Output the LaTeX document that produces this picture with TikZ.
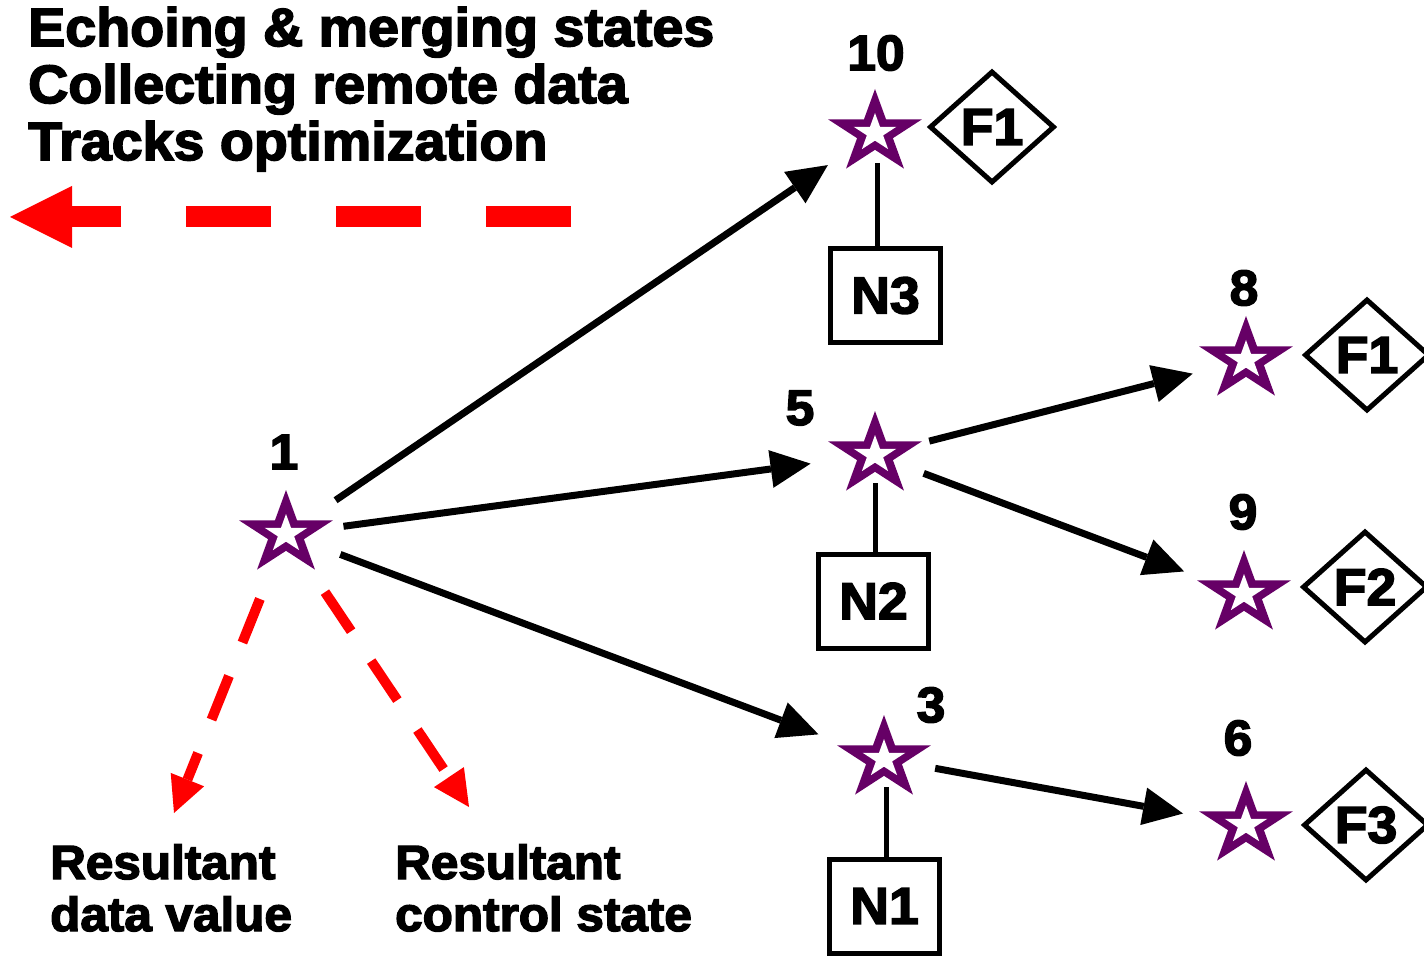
\documentclass[tikz,border=0pt]{standalone}
\usepackage{fontspec}
\setmainfont{Liberation Sans}[BoldFeatures={FakeBold=3,FakeStretch=1.03}]
\usetikzlibrary{arrows.meta,shapes.geometric}
\definecolor{starpurple}{RGB}{102,0,102}

\begin{document}
\begin{tikzpicture}[x=1pt,y=-1pt,
  outerstar/.style={star, star points=5, star point ratio=2.618, fill=starpurple,
    minimum size=88pt, inner sep=0pt, xscale=1.12, transform shape},
  innerstar/.style={star, star points=5, star point ratio=2.618, fill=white,
    minimum size=40pt, inner sep=0pt, xscale=1.12, transform shape},
  num/.style={inner sep=0pt, font=\fontsize{50}{50}\selectfont\bfseries},
  nbox/.style={draw, line width=5pt, minimum width=110pt, minimum height=94pt,
    inner sep=0pt, font=\fontsize{52}{52}\selectfont\bfseries},
  fdiam/.style={diamond, draw, line width=5pt, minimum width=125pt, minimum height=112pt,
    inner sep=0pt, font=\fontsize{52}{52}\selectfont\bfseries},
  flow/.style={-{Triangle[length=40pt,width=38pt,line width=0pt]}, line width=7pt},
  stem/.style={line width=5pt},
  reddash/.style={red, line width=10pt, dash pattern=on 47pt off 36pt,
    -{Triangle[length=36pt,width=36pt,line width=0pt]}},
  bigdash/.style={red, line width=21pt, dash pattern=on 85pt off 65pt,
    -{Triangle[length=62pt,width=62pt,line width=0pt]}},
  title/.style={anchor=base west, inner sep=0pt, font=\fontsize{54}{54}\selectfont\bfseries},
  result/.style={anchor=base west, inner sep=0pt, font=\fontsize{48}{48}\selectfont\bfseries},
]
\useasboundingbox (0,0) rectangle (1424,957);

% heading
\node[title] (h1) at (28,46) {Echoing \& merging states};
\node[title] (h2) at (28,103) {Collecting remote data};
\node[title] (h3) at (28,160) {Tracks optimization};

% backward flow marker
\coordinate (bstart) at (571,217);
\coordinate (bend) at (10,217);
\draw[bigdash] (bstart) -- (bend);

% states
\foreach \n/\p in {s1/{(286,534)}, s10/{(875,133)}, s5/{(875,455)}, s3/{(884,759)},
                   s8/{(1246,360)}, s9/{(1244,594)}, s6/{(1246,825)}} {
  \node[outerstar] (\n) at \p {};
  \node[innerstar] at (\n.center) {};
}

% state numbers
\node[num] (l1) at (284,452) {1};
\node[num] (l10) at (876,53) {10};
\node[num] (l5) at (800,408) {5};
\node[num] (l3) at (931,705) {3};
\node[num] (l8) at (1244,288) {8};
\node[num] (l9) at (1243,512) {9};
\node[num] (l6) at (1238,738) {6};

% nodes
\node[nbox] (N3) at (885.5,295.5) {N3};
\node[nbox] (N2) at (873.5,601) {N2};
\node[nbox] (N1) at (884.5,906) {N1};

% features
\node[fdiam] (F1a) at (992,127) {F1};
\node[fdiam] (F1b) at (1367,355) {F1};
\node[fdiam] (F2) at (1365,587) {F2};
\node[fdiam] (F3) at (1366,825) {F3};

% state to node links
\draw[stem] ([xshift=2pt,yshift=-30pt]s10.center) -- ([xshift=2pt]s10.center |- N3.north);
\draw[stem] ([yshift=-28pt]s5.center) -- (s5.center |- N2.north);
\draw[stem] ([xshift=2pt,yshift=-28pt]s3.center) -- ([xshift=2pt]s3.center |- N1.north);

% transitions
\draw[flow, shorten <=60pt, shorten >=57pt] (s1.center) -- (s10.center);
\draw[flow, shorten <=58pt, shorten >=65pt] (s1.center) -- (s5.center);
\draw[flow, shorten <=58pt, shorten >=70pt] (s1.center) -- (s3.center);
\draw[flow, shorten <=56pt, shorten >=55pt] (s5.center) -- (s8.center);
\draw[flow, shorten <=52pt, shorten >=64pt] (s5.center) -- (s9.center);
\draw[flow, shorten <=52pt, shorten >=64pt] (s3.center) -- (s6.center);

% results
\coordinate (dv) at (174,813);
\coordinate (cs) at (469,807);
\draw[reddash, shorten <=70pt] (s1.center) -- (dv);
\draw[reddash, shorten <=70pt] (s1.center) -- (cs);

\node[result] (r1) at (50,879) {Resultant};
\node[result] (r2) at (50,931) {data value};
\node[result] (r3) at (395,879) {Resultant};
\node[result] (r4) at (395,931) {control state};
\end{tikzpicture}
\end{document}
